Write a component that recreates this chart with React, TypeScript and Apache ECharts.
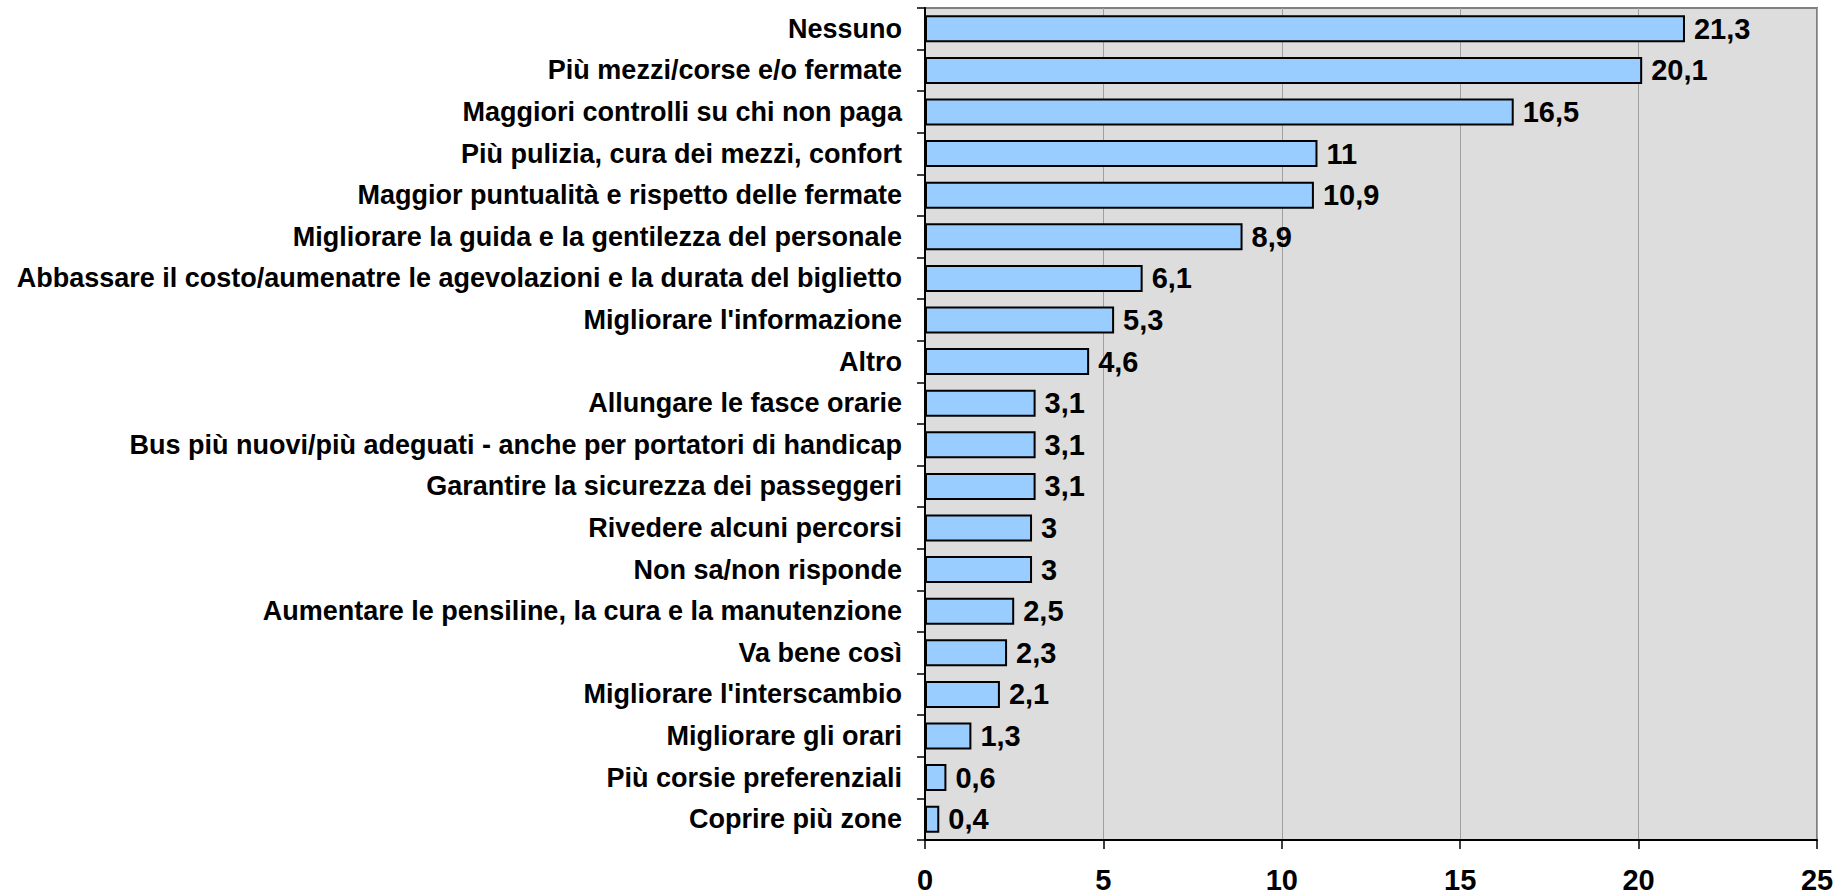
import React, { useEffect, useRef } from "react";
import * as echarts from "echarts";

const categories = [
  "Nessuno",
  "Più mezzi/corse e/o fermate",
  "Maggiori controlli su chi non paga",
  "Più pulizia, cura dei mezzi, confort",
  "Maggior puntualità e rispetto delle fermate",
  "Migliorare la guida e la gentilezza del personale",
  "Abbassare il costo/aumenatre le agevolazioni e la durata del biglietto",
  "Migliorare l'informazione",
  "Altro",
  "Allungare le fasce orarie",
  "Bus più nuovi/più adeguati - anche per portatori di handicap",
  "Garantire la sicurezza dei passeggeri",
  "Rivedere alcuni percorsi",
  "Non sa/non risponde",
  "Aumentare le pensiline, la cura e la manutenzione",
  "Va bene così",
  "Migliorare l'interscambio",
  "Migliorare gli orari",
  "Più corsie preferenziali",
  "Coprire più zone",
];

const values = [21.3, 20.1, 16.5, 11, 10.9, 8.9, 6.1, 5.3, 4.6, 3.1, 3.1, 3.1, 3, 3, 2.5, 2.3, 2.1, 1.3, 0.6, 0.4];

const xTicks = [0, 5, 10, 15, 20, 25];

const FONT = "'Liberation Sans', Arial, Helvetica, sans-serif";

export default function App() {
  const ref = useRef<HTMLDivElement>(null);
  useEffect(() => {
    if (!ref.current) return;
    const chart = echarts.init(ref.current, null, { renderer: "svg" });
    chart.setOption({
      animation: false,
      backgroundColor: "#ffffff",
      grid: {
        left: 925,
        right: 30,
        top: 8,
        bottom: 53,
        show: true,
        backgroundColor: "#DDDDDD",
        borderColor: "#808080",
        borderWidth: 2,
      },
      xAxis: {
        type: "value",
        min: xTicks[0],
        max: xTicks[xTicks.length - 1],
        interval: 5,
        axisLine: { show: true, lineStyle: { color: "#000000", width: 2 } },
        axisTick: { show: true, length: 9, lineStyle: { color: "#000000", width: 1.5 } },
        splitLine: { show: true, lineStyle: { color: "#A0A0A0", width: 1 } },
        axisLabel: {
          margin: 25,
          color: "#000000",
          fontFamily: FONT,
          fontWeight: "bold",
          fontSize: 29,
        },
      },
      yAxis: {
        type: "category",
        data: categories,
        inverse: true,
        axisLine: { show: true, lineStyle: { color: "#000000", width: 2 } },
        axisTick: { show: true, length: 8, lineStyle: { color: "#000000", width: 1.5 } },
        axisLabel: {
          margin: 23,
          color: "#000000",
          fontFamily: FONT,
          fontWeight: "bold",
          fontSize: 27,
          interval: 0,
        },
      },
      series: [
        {
          type: "bar",
          data: values,
          barCategoryGap: "35%",
          itemStyle: { color: "#99CCFF", borderColor: "#000000", borderWidth: 2 },
          label: {
            show: true,
            position: "right",
            distance: 9,
            color: "#000000",
            fontFamily: FONT,
            fontWeight: "bold",
            fontSize: 29,
            formatter: (p: any) => String(p.value).replace(".", ","),
          },
        },
      ],
    });
    return () => chart.dispose();
  }, []);
  return (
    <div
      ref={ref}
      style={{ position: "fixed", left: 0, top: 0, width: 1847, height: 894 }}
    />
  );
}
